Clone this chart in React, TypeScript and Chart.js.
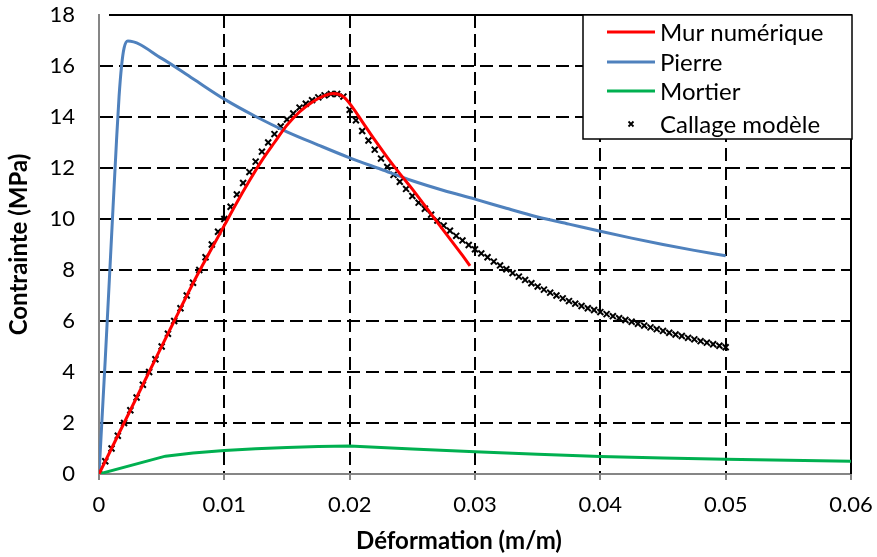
import React, { useEffect, useRef } from "react";
import { Chart, registerables } from "chart.js";

Chart.register(...registerables);

// ---- Data ----
const murX = [0, 0.002, 0.004, 0.006, 0.008, 0.009, 0.01, 0.011, 0.012, 0.013, 0.014, 0.015, 0.016, 0.017, 0.018, 0.0187, 0.0195, 0.0202, 0.021, 0.022, 0.023, 0.024, 0.025, 0.026, 0.027, 0.028, 0.029, 0.0296];
const murY = [0, 2.0, 4.0, 6.0, 7.95, 8.85, 9.75, 10.65, 11.5, 12.3, 13.0, 13.68, 14.2, 14.58, 14.84, 14.92, 14.8, 14.4, 13.82, 13.1, 12.42, 11.78, 11.17, 10.52, 9.87, 9.22, 8.57, 8.16];

const pierreX = [0, 0.0005, 0.001, 0.0014, 0.0016, 0.0018, 0.002, 0.0023, 0.005, 0.0075, 0.01, 0.0125, 0.015, 0.0175, 0.02, 0.0225, 0.025, 0.0275, 0.03, 0.0325, 0.035, 0.0375, 0.04, 0.0425, 0.045, 0.0475, 0.05];
const pierreY = [0, 4.5, 9.3, 13.1, 14.8, 16.0, 16.7, 16.98, 16.3, 15.5, 14.7, 14.02, 13.42, 12.9, 12.4, 11.95, 11.5, 11.12, 10.78, 10.42, 10.08, 9.8, 9.52, 9.25, 9.0, 8.77, 8.56];

const mortierX = [0, 0.0053, 0.0075, 0.01, 0.0125, 0.015, 0.0175, 0.02, 0.025, 0.03, 0.035, 0.04, 0.045, 0.05, 0.055, 0.06];
const mortierY = [0, 0.7, 0.82, 0.92, 0.99, 1.04, 1.08, 1.1, 0.98, 0.87, 0.77, 0.69, 0.63, 0.58, 0.54, 0.5];

const callageX = [
  0, 0.0005, 0.001, 0.0015, 0.002, 0.0025, 0.003, 0.0035, 0.004, 0.0045,
  0.005, 0.0055, 0.006, 0.0065, 0.007, 0.0075, 0.008, 0.0085, 0.009, 0.0095,
  0.01, 0.0105, 0.011, 0.0115, 0.012, 0.0125, 0.013, 0.0135, 0.014, 0.0145,
  0.015, 0.0155, 0.016, 0.0165, 0.017, 0.0175, 0.018, 0.0185, 0.019, 0.0195,
  0.02, 0.0205, 0.021, 0.0215, 0.022, 0.0225, 0.023, 0.0235, 0.024, 0.0245,
  0.025, 0.0255, 0.026, 0.0265, 0.027, 0.0275, 0.028, 0.0285, 0.029, 0.0295,
  0.03, 0.0305, 0.031, 0.0315, 0.032, 0.0325, 0.033, 0.0335, 0.034, 0.0345,
  0.035, 0.0355, 0.036, 0.0365, 0.037, 0.0375, 0.038, 0.0385, 0.039, 0.0395,
  0.04, 0.0405, 0.041, 0.0415, 0.042, 0.0425, 0.043, 0.0435, 0.044, 0.0445,
  0.045, 0.0455, 0.046, 0.0465, 0.047, 0.0475, 0.048, 0.0485, 0.049, 0.0495,
  0.05,
];
const callageY = [
  0, 0.5, 1.0, 1.5, 2.0, 2.5, 3.0, 3.5, 4.0, 4.5,
  5.0, 5.5, 6.0, 6.5, 7.0, 7.5, 8.0, 8.5, 9.0, 9.5,
  10.0, 10.48, 10.96, 11.41, 11.84, 12.25, 12.64, 13.0, 13.33, 13.63,
  13.9, 14.14, 14.37, 14.52, 14.66, 14.77, 14.85, 14.9, 14.9, 14.8,
  14.28, 13.87, 13.45, 13.08, 12.72, 12.37, 12.04, 11.73, 11.46, 11.18,
  10.9, 10.64, 10.4, 10.17, 9.94, 9.74, 9.54, 9.34, 9.16, 8.98,
  8.81, 8.65, 8.5, 8.33, 8.18, 8.03, 7.88, 7.74, 7.61, 7.48,
  7.35, 7.23, 7.11, 7.0, 6.89, 6.78, 6.68, 6.59, 6.5, 6.43,
  6.35, 6.27, 6.19, 6.11, 6.04, 5.97, 5.89, 5.82, 5.75, 5.68,
  5.61, 5.54, 5.47, 5.41, 5.34, 5.28, 5.21, 5.15, 5.09, 5.03,
  4.97,
];

const seriesLabels = ["Mur numérique", "Pierre", "Mortier", "Callage modèle"];
const xTitle = "Déformation (m/m)";
const yTitle = "Contrainte (MPa)";

const toPts = (xs: number[], ys: number[]) => xs.map((x, i) => ({ x, y: ys[i] }));

const FONT = "Lato, 'Open Sans', sans-serif";

const frameAndLegend = {
  id: "frameAndLegend",
  beforeDatasetsDraw(chart: any) {
    const { ctx, chartArea: a } = chart;
    ctx.save();
    ctx.strokeStyle = "#000";
    ctx.lineWidth = 2;
    ctx.setLineDash([]);
    ctx.beginPath();
    ctx.moveTo(a.left + 10, a.top);
    ctx.lineTo(a.right, a.top);
    ctx.lineTo(a.right, a.bottom);
    ctx.stroke();
    ctx.restore();
  },
  afterDatasetsDraw(chart: any) {
    const { ctx, chartArea: a } = chart;
    const ds = chart.data.datasets;
    const boxL = 583, boxR = a.right + 1, boxT = a.top, boxB = 139;
    ctx.save();
    ctx.fillStyle = "#fff";
    ctx.fillRect(boxL, boxT, boxR - boxL, boxB - boxT);
    ctx.strokeStyle = "#000";
    ctx.lineWidth = 1.5;
    ctx.setLineDash([]);
    ctx.strokeRect(boxL, boxT, boxR - boxL, boxB - boxT);
    const rows = [32, 62, 91, 124];
    ctx.font = `24px ${FONT}`;
    ctx.textBaseline = "middle";
    ctx.textAlign = "left";
    ds.forEach((d: any, i: number) => {
      const y = rows[i];
      if (d.showLine) {
        ctx.strokeStyle = d.borderColor;
        ctx.lineWidth = 3;
        ctx.beginPath();
        ctx.moveTo(607, y);
        ctx.lineTo(655, y);
        ctx.stroke();
      } else {
        ctx.strokeStyle = "#000";
        ctx.lineWidth = 1.8;
        const cx = 631, r = 2.5;
        ctx.beginPath();
        ctx.moveTo(cx - r, y - r);
        ctx.lineTo(cx + r, y + r);
        ctx.moveTo(cx + r, y - r);
        ctx.lineTo(cx - r, y + r);
        ctx.stroke();
      }
      ctx.fillStyle = "#000";
      ctx.fillText(d.label, 660, y + 1);
    });
    // x-axis title
    ctx.font = `bold 24px ${FONT}`;
    ctx.textAlign = "center";
    ctx.textBaseline = "middle";
    ctx.fillStyle = "#000";
    ctx.fillText(xTitle, 459, 541);
    ctx.restore();
  },
};

export default function App() {
  const ref = useRef<HTMLCanvasElement>(null);
  useEffect(() => {
    if (!ref.current) return;
    const chart = new Chart(ref.current, {
      type: "scatter",
      data: {
        datasets: [
          {
            label: seriesLabels[0],
            data: toPts(murX, murY),
            showLine: true,
            borderColor: "#FF0000",
            borderWidth: 3,
            pointRadius: 0,
            cubicInterpolationMode: "monotone",
          },
          {
            label: seriesLabels[1],
            data: toPts(pierreX, pierreY),
            showLine: true,
            borderColor: "#4F81BD",
            borderWidth: 3,
            pointRadius: 0,
            cubicInterpolationMode: "monotone",
          },
          {
            label: seriesLabels[2],
            data: toPts(mortierX, mortierY),
            showLine: true,
            borderColor: "#00B050",
            borderWidth: 3,
            pointRadius: 0,
            tension: 0,
          },
          {
            label: seriesLabels[3],
            data: toPts(callageX, callageY),
            showLine: false,
            pointStyle: "crossRot",
            pointRadius: 4.2,
            borderColor: "#000",
            backgroundColor: "#000",
            borderWidth: 2,
          },
        ],
      } as any,
      options: {
        animation: false,
        responsive: false,
        devicePixelRatio: 1,
        layout: { padding: { top: 15, right: 26, left: 0, bottom: 0 } },
        plugins: { legend: { display: false }, tooltip: { enabled: false } },
        scales: {
          x: {
            type: "linear",
            min: 0,
            max: 0.06,
            afterFit: (s: any) => { s.height = 83; s.paddingLeft = 0; s.paddingRight = 0; },
            ticks: {
              stepSize: 0.01,
              color: "#000",
              font: { family: FONT, size: 22 },
              padding: 12,
              callback: (v: any) => (v === 0 ? "0" : Number(v).toFixed(2)),
            },
            grid: {
              color: (c: any) => (c.tick && (c.tick.value === 0 || Math.abs(c.tick.value - 0.06) < 1e-9) ? "rgba(0,0,0,0)" : "#000"),
              lineWidth: 2,
              drawTicks: true,
              tickLength: 6,
              tickColor: "#868686",
              tickWidth: 2,
            },
            border: { display: true, color: "#868686", width: 2, dash: [13, 6] },
            title: { display: false },
          },
          y: {
            type: "linear",
            min: 0,
            max: 18,
            afterFit: (s: any) => { s.width = 99; s.paddingTop = 0; s.paddingBottom = 0; },
            ticks: {
              stepSize: 2,
              color: "#000",
              font: { family: FONT, size: 22 },
              padding: 24,
            },
            grid: {
              color: (c: any) => (c.tick && (c.tick.value === 0 || c.tick.value === 18) ? "rgba(0,0,0,0)" : "#000"),
              lineWidth: 2,
              drawTicks: false,
            },
            border: { display: true, color: "#868686", width: 2, dash: [13, 6] },
            title: {
              display: true,
              text: yTitle,
              color: "#000",
              font: { family: FONT, size: 24, weight: "bold" },
              padding: { top: 5, bottom: 0 },
            },
          },
        },
      } as any,
      plugins: [frameAndLegend],
    });
    return () => chart.destroy();
  }, []);
  return (
    <div style={{ position: "absolute", left: 0, top: 0, width: 877, height: 557, background: "#fff" }}>
      <canvas ref={ref} width={877} height={557} />
    </div>
  );
}
